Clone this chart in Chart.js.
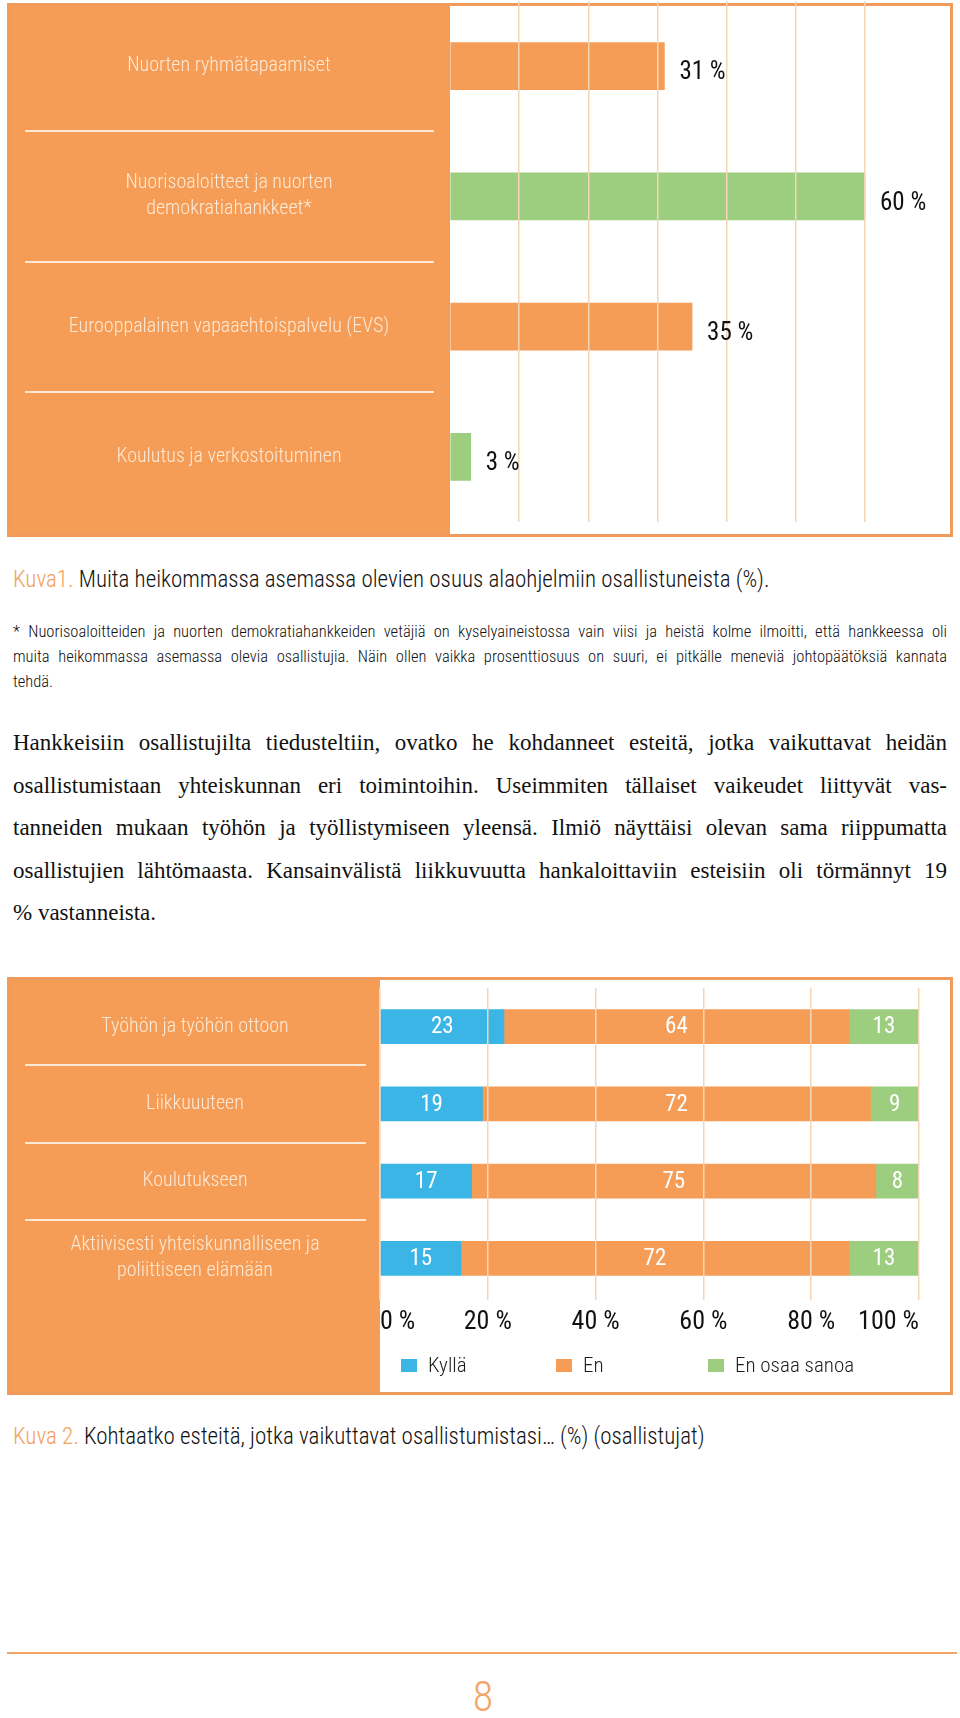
<!DOCTYPE html>
<html>
<head>
<meta charset="utf-8">
<script src="https://cdn.jsdelivr.net/npm/chart.js@4.4.1/dist/chart.umd.min.js"></script>
<style>
  body { margin: 0; background: #fff; width: 960px; height: 1718px; position: relative; overflow: hidden;
         font-family: 'Roboto Condensed', 'Liberation Sans Narrow', Roboto, sans-serif; color: #1d1d1b; }
  .abs { position: absolute; }
  .caption { left: 13px; font-size: 23px; line-height: 26px; white-space: nowrap; font-weight: 300; color: #111; }
  .caption span { color: #F2A05C; }
  .note { left: 13px; width: 934px; font-size: 16.5px; line-height: 25px; font-weight: 300; color: #111; }
  .para { left: 13px; width: 934px; font-family: 'Liberation Serif', serif; font-size: 23px; line-height: 42.5px; color: #111; }
  .just { text-align: justify; text-align-last: justify; }
  .legend-item { position: absolute; font-size: 21px; line-height: 24px; white-space: nowrap; font-weight: 300; }
  .legend-box { position: absolute; width: 16px; height: 13px; }
</style>
</head>
<body>

<div class="abs" style="left:0;top:-20px;"><canvas id="kuva1" width="960" height="560"></canvas></div>

<div class="abs caption" style="top:567px;"><span>Kuva1.</span> Muita heikommassa asemassa olevien osuus alaohjelmiin osallistuneista (%).</div>

<div class="abs note" style="top:619px;">
  <div class="just">* Nuorisoaloitteiden ja nuorten demokratiahankkeiden vetäjiä on kyselyaineistossa vain viisi ja heistä kolme ilmoitti, että hankkeessa oli</div>
  <div class="just">muita heikommassa asemassa olevia osallistujia. Näin ollen vaikka prosenttiosuus on suuri, ei pitkälle meneviä johtopäätöksiä kannata</div>
  <div>tehdä.</div>
</div>

<div class="abs para" style="top:722px;">
  <div class="just">Hankkeisiin osallistujilta tiedusteltiin, ovatko he kohdanneet esteitä, jotka vaikuttavat heidän</div>
  <div class="just">osallistumistaan yhteiskunnan eri toimintoihin. Useimmiten tällaiset vaikeudet liittyvät vas-</div>
  <div class="just">tanneiden mukaan työhön ja työllistymiseen yleensä. Ilmiö näyttäisi olevan sama riippumatta</div>
  <div class="just">osallistujien lähtömaasta. Kansainvälistä liikkuvuutta hankaloittaviin esteisiin oli törmännyt 19</div>
  <div>% vastanneista.</div>
</div>

<div class="abs" id="wrap2" style="left:0;top:960px;width:960px;height:440px;">
  <canvas id="kuva2" width="960" height="440"></canvas>
</div>

<div class="abs caption" style="top:1424px;"><span>Kuva 2.</span> Kohtaatko esteitä, jotka vaikuttavat osallistumistasi… (%) (osallistujat)</div>

<div class="abs" style="left:7px;top:1652px;width:950px;height:2px;background:#F3A466;"></div>
<div class="abs" style="left:0;top:1675px;width:966px;text-align:center;font-size:42px;line-height:44px;color:#F3A466;font-weight:300;">8</div>

<script>
  // ---- data: Kuva 1 ----
  var kuva1Labels = [
    ["Nuorten ryhmätapaamiset"],
    ["Nuorisoaloitteet ja nuorten", "demokratiahankkeet*"],
    ["Eurooppalainen vapaaehtoispalvelu (EVS)"],
    ["Koulutus ja verkostoituminen"],
  ];
  var kuva1Values = [31, 60, 35, 3];

  // ---- data: Kuva 2 ----
  var kuva2Labels = [
    ["Työhön ja työhön ottoon"],
    ["Liikkuuuteen"],
    ["Koulutukseen"],
    ["Aktiivisesti yhteiskunnalliseen ja", "poliittiseen elämään"],
  ];
  var kyllaValues = [23, 19, 17, 15];
  var enValues = [64, 72, 75, 72];
  var eosValues = [13, 9, 8, 13];
  var kuva2SeriesNames = ["Kyllä", "En", "En osaa sanoa"];
  var kuva2TickLabels = ["0 %", "20 %", "40 %", "60 %", "80 %", "100 %"];

  // ---- styles ----
  var FAMILY = "'Roboto Condensed', 'Liberation Sans Narrow', Roboto, sans-serif";
  var ORANGE = "#F59C56";
  var FRAME = "#F09B5B";
  var GREEN = "#9DCD7F";
  var BLUE = "#3BB4E6";
  var CREAM = "#FDEAD6";
  var GRID = "#F4D5B6";
  var kuva1Colors = [ORANGE, GREEN, ORANGE, GREEN];

  Chart.defaults.font.family = FAMILY;

  // widest label line, so the labels can be centred in the orange panel
  function widest(labels, size) {
    var c = document.createElement("canvas").getContext("2d");
    c.font = "300 " + size + "px " + FAMILY;
    var w = 0;
    labels.forEach((l) => l.forEach((line) => { w = Math.max(w, c.measureText(line).width); }));
    return w;
  }

  // orange label panel, frame and separators
  var framePanel = {
    id: "framePanel",
    beforeDraw(chart, args, o) {
      var ctx = chart.ctx, area = chart.chartArea, y = chart.scales.y;
      ctx.save();
      ctx.fillStyle = ORANGE;
      ctx.fillRect(o.left, o.top, area.left - o.left, o.bottom - o.top);
      ctx.strokeStyle = FRAME;
      ctx.lineWidth = 3;
      ctx.strokeRect(o.left + 1.5, o.top + 1.5, o.right - o.left - 3, o.bottom - o.top - 3);
      ctx.strokeStyle = CREAM;
      ctx.lineWidth = 2;
      for (var i = 1; i < y.ticks.length; i++) {
        var yy = Math.round((y.getPixelForTick(i - 1) + y.getPixelForTick(i)) / 2);
        ctx.beginPath();
        ctx.moveTo(o.sepLeft, yy);
        ctx.lineTo(o.sepRight, yy);
        ctx.stroke();
      }
      ctx.restore();
    },
  };

  // value labels on/after the bars
  var valueLabels = {
    id: "valueLabels",
    afterDraw(chart, args, o) {
      var ctx = chart.ctx;
      ctx.save();
      ctx.font = o.size + "px " + FAMILY;
      ctx.fillStyle = o.color;
      ctx.textBaseline = "middle";
      chart.data.datasets.forEach((ds, di) => {
        chart.getDatasetMeta(di).data.forEach((bar, i) => {
          var v = ds.data[i];
          if (o.outside) {
            ctx.textAlign = "left";
            ctx.fillText(v + " %", bar.x + o.gap, bar.y + o.dy);
          } else {
            ctx.textAlign = "center";
            ctx.fillText(String(v), (bar.x + bar.base) / 2, bar.y + o.dy);
          }
        });
      });
      ctx.restore();
    },
  };

  // invisible tick marks push the labels to the middle of the panel
  function panelAxis(labels, panelWidth, center, right) {
    return {
      border: { display: false },
      grid: { display: true, drawOnChartArea: false, drawTicks: true, color: "rgba(0,0,0,0)",
              tickColor: "rgba(0,0,0,0)", tickLength: (right - center) - widest(labels, 20) / 2 },
      ticks: { color: CREAM, crossAlign: "center", padding: 0, font: { size: 20, weight: 300, lineHeight: 1.3 } },
      afterFit: (s) => { s.width = panelWidth; },
    };
  }

  // ---- Kuva 1 ----  (canvas sits 20px above the page top)
  new Chart(document.getElementById("kuva1"), {
    type: "bar",
    data: {
      labels: kuva1Labels,
      datasets: [{ data: kuva1Values, backgroundColor: kuva1Colors, barThickness: 47 }],
    },
    options: {
      indexAxis: "y",
      responsive: false,
      animation: false,
      layout: { padding: { left: 7, right: 12, top: 21, bottom: 18 } },
      plugins: {
        legend: { display: false },
        tooltip: { enabled: false },
        framePanel: { left: 7, right: 953, top: 23, bottom: 557, sepLeft: 25, sepRight: 434 },
        valueLabels: { size: 25, color: "#111", outside: true, gap: 15, dy: 7 },
      },
      scales: {
        x: {
          min: 0,
          max: 72,
          border: { display: false },
          ticks: { display: false, stepSize: 10 },
          grid: {
            z: 1,
            drawTicks: false,
            lineWidth: 1.5,
            color: (c) => (c.tick && c.tick.value > 0 && c.tick.value <= 60 ? GRID : "rgba(0,0,0,0)"),
          },
          afterFit: (s) => { s.height = 0; },
        },
        y: panelAxis(kuva1Labels, 443, 229, 450),
      },
    },
    plugins: [framePanel, valueLabels],
  });

  // ---- Kuva 2 ----
  var kuva2 = new Chart(document.getElementById("kuva2"), {
    type: "bar",
    data: {
      labels: kuva2Labels,
      datasets: [
        { label: kuva2SeriesNames[0], data: kyllaValues, backgroundColor: BLUE, barThickness: 34 },
        { label: kuva2SeriesNames[1], data: enValues, backgroundColor: ORANGE, barThickness: 34 },
        { label: kuva2SeriesNames[2], data: eosValues, backgroundColor: GREEN, barThickness: 34 },
      ],
    },
    options: {
      indexAxis: "y",
      responsive: false,
      animation: false,
      layout: { padding: { left: 7, right: 41, top: 28, bottom: 63 } },
      plugins: {
        legend: { display: false },
        tooltip: { enabled: false },
        framePanel: { left: 7, right: 953, top: 17, bottom: 435, sepLeft: 25, sepRight: 366 },
        valueLabels: { size: 23, color: "#ffffff", outside: false, dy: 1 },
      },
      scales: {
        x: {
          stacked: true,
          min: 0,
          max: 100,
          border: { display: false },
          grid: { z: 1, color: GRID, lineWidth: 1.5, tickLength: 3, tickColor: GRID },
          ticks: {
            stepSize: 20,
            align: "inner",
            padding: 7,
            color: "#111",
            font: { size: 26 },
            callback: (v, i) => kuva2TickLabels[i],
          },
          afterFit: (s) => { s.height = 40; },
        },
        y: Object.assign(panelAxis(kuva2Labels, 373, 195, 380), { stacked: true }),
      },
    },
    plugins: [framePanel, valueLabels],
  });

  // legend from the chart's datasets
  var legendX = [401, 556, 708];
  var wrap2 = document.getElementById("wrap2");
  kuva2.data.datasets.forEach((ds, i) => {
    var box = document.createElement("div");
    box.className = "legend-box";
    box.style.left = legendX[i] + "px";
    box.style.top = "399px";
    box.style.background = ds.backgroundColor;
    var txt = document.createElement("div");
    txt.className = "legend-item";
    txt.style.left = legendX[i] + 27 + "px";
    txt.style.top = "393px";
    txt.textContent = ds.label;
    wrap2.appendChild(box);
    wrap2.appendChild(txt);
  });
</script>
</body>
</html>
